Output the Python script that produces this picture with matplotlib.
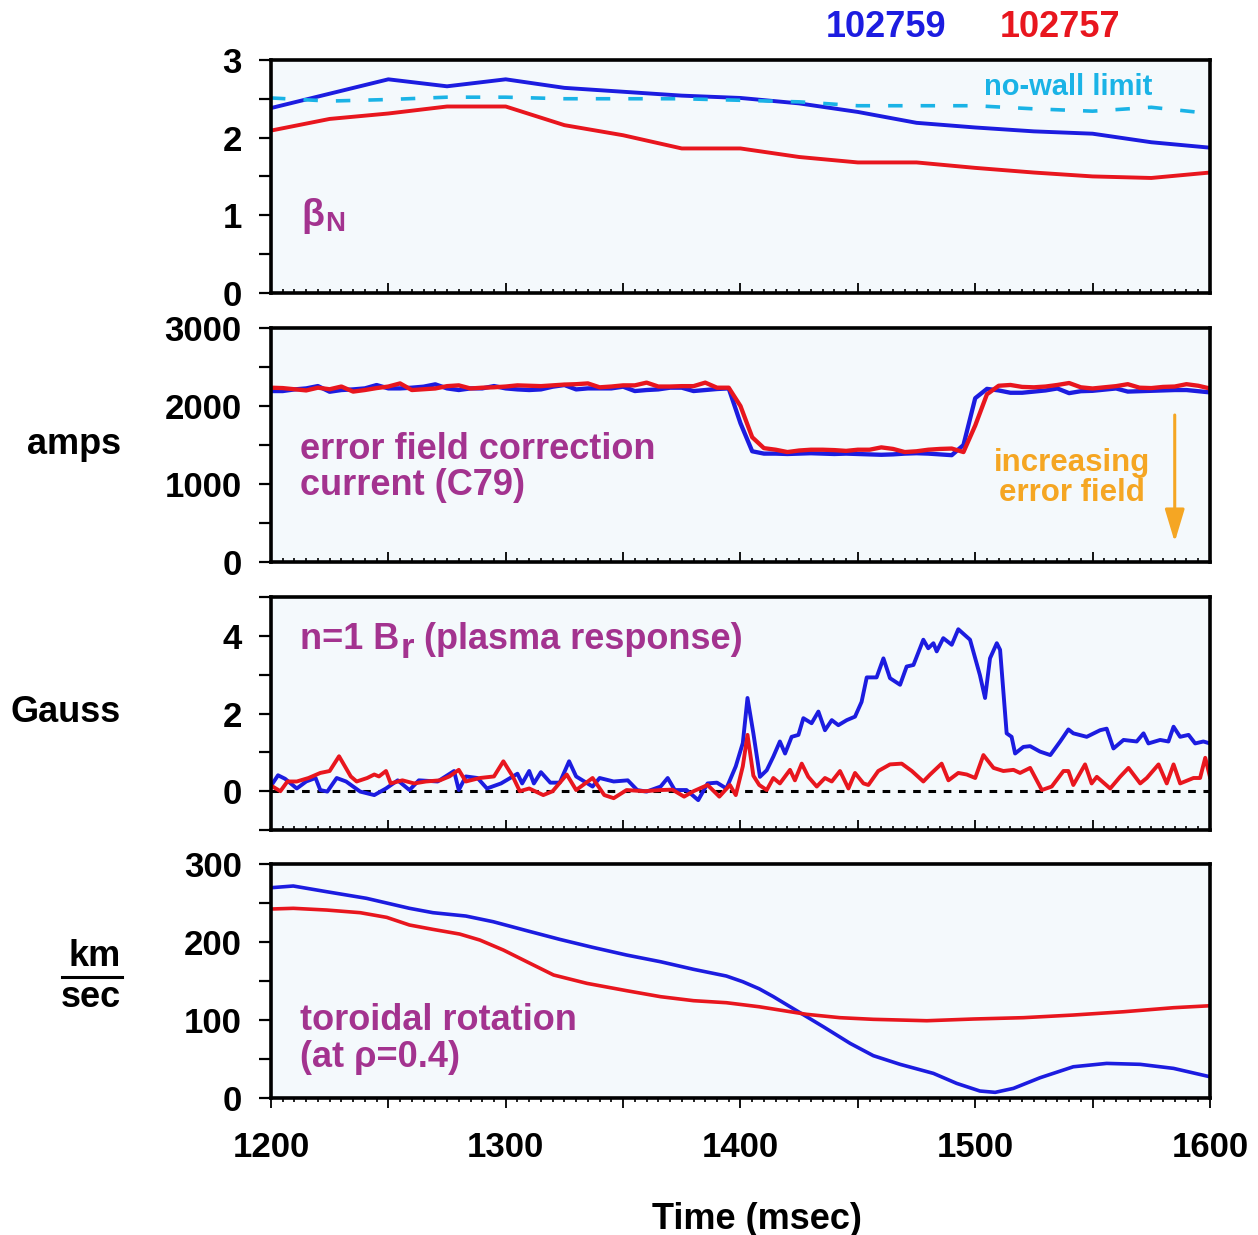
import numpy as np
import matplotlib
matplotlib.use("Agg")
import matplotlib.pyplot as plt
from matplotlib.ticker import MultipleLocator, FuncFormatter
from matplotlib.lines import Line2D

plt.rcParams['font.family'] = ['Liberation Sans', 'DejaVu Sans']
plt.rcParams['font.weight'] = 'bold'

BLUE = '#1c1ce0'
RED = '#e8161e'
CYAN = '#1ab3e6'
ORANGE = '#f5a623'
PURPLE = '#a3338f'
BG = '#f4f9fc'

# ---- beta_N (top panel)
beta_blue_t = [1200, 1250, 1275, 1300, 1325, 1350, 1375, 1400, 1425, 1450, 1475, 1500, 1525, 1550, 1575, 1600]
beta_blue = [2.38, 2.75, 2.66, 2.75, 2.64, 2.59, 2.54, 2.51, 2.44, 2.33, 2.19, 2.13, 2.08, 2.05, 1.94, 1.87]
beta_red_t = [1200, 1225, 1250, 1275, 1300, 1325, 1350, 1375, 1400, 1425, 1450, 1475, 1500, 1525, 1550, 1575, 1600]
beta_red = [2.09, 2.24, 2.31, 2.40, 2.40, 2.16, 2.03, 1.86, 1.86, 1.75, 1.68, 1.68, 1.61, 1.55, 1.50, 1.48, 1.55]
nowall = [2.51, 2.47, 2.49, 2.52, 2.52, 2.50, 2.50, 2.50, 2.48, 2.46, 2.41, 2.41, 2.41, 2.37, 2.34, 2.39, 2.31]

# ---- error field correction current (C79), every 5 ms from 1200 to 1600
current_t = np.arange(1200, 1601, 5)
current_blue = [2192, 2192, 2213, 2226, 2256, 2183, 2205, 2213, 2226, 2269,
                2226, 2226, 2235, 2248, 2278, 2226, 2205, 2226, 2226, 2256,
                2226, 2213, 2205, 2213, 2248, 2269, 2213, 2226, 2226, 2226,
                2248, 2192, 2205, 2213, 2235, 2235, 2192, 2205, 2218, 2226,
                1780, 1420, 1390, 1390, 1385, 1390, 1395, 1390, 1385, 1390,
                1385, 1380, 1375, 1380, 1390, 1395, 1390, 1380, 1370, 1500,
                2100, 2220, 2200, 2170, 2170, 2185, 2200, 2225, 2165, 2190,
                2195, 2210, 2225, 2185, 2190, 2195, 2200, 2205, 2205, 2190,
                2175]
current_red = [2235, 2230, 2215, 2200, 2235, 2215, 2250, 2185, 2205, 2230,
               2250, 2290, 2205, 2215, 2225, 2255, 2265, 2225, 2235, 2240,
               2250, 2265, 2260, 2255, 2265, 2275, 2280, 2290, 2240, 2250,
               2265, 2265, 2300, 2250, 2250, 2255, 2255, 2300, 2235, 2235,
               2000, 1600, 1460, 1440, 1410, 1430, 1440, 1440, 1435, 1425,
               1440, 1440, 1470, 1450, 1410, 1420, 1440, 1450, 1455, 1410,
               1750, 2150, 2260, 2270, 2245, 2240, 2250, 2270, 2295, 2240,
               2225, 2240, 2255, 2280, 2235, 2230, 2245, 2250, 2280, 2260,
               2225]

# ---- n=1 Br plasma response (Gauss)
gauss_blue_t = [1200.7, 1203, 1206, 1211, 1215, 1219, 1221, 1224, 1228, 1232,
                1238, 1244, 1249, 1254, 1259, 1263, 1271, 1278, 1280, 1283,
                1288, 1292, 1298, 1305, 1307, 1310, 1312, 1315, 1319, 1323,
                1327, 1330, 1337, 1340, 1346, 1352, 1356, 1360, 1366, 1369,
                1372, 1377, 1382, 1386, 1390, 1394, 1398, 1401, 1403, 1405.5,
                1408.3, 1411.2, 1414, 1416.8, 1419, 1421.8, 1424.7, 1426.8, 1430.3, 1433.2,
                1436, 1438.9, 1441.7, 1445.3, 1448.8, 1451.6, 1453.8, 1458, 1460.9, 1463.7,
                1468, 1470.8, 1473.7, 1477.9, 1480, 1482.2, 1483.6, 1486.4, 1490, 1492.8,
                1497.8, 1502, 1504.2, 1506.3, 1509.2, 1510.6, 1513.4, 1515.5, 1517, 1520.5,
                1523.4, 1527.6, 1532, 1536.2, 1539.7, 1541.8, 1547.5, 1553.2, 1556, 1558.9,
                1563.2, 1568.8, 1571.7, 1573.8, 1578.8, 1582.3, 1584.5, 1587.3, 1590.9, 1593.7,
                1597.2, 1600]
gauss_blue = [0.20, 0.41, 0.32, 0.07, 0.25, 0.34, 0.03, -0.01, 0.34, 0.25,
              -0.01, -0.10, 0.07, 0.28, 0.03, 0.28, 0.25, 0.52, 0.03, 0.38,
              0.34, 0.07, 0.20, 0.45, 0.20, 0.52, 0.20, 0.49, 0.22, 0.22,
              0.77, 0.38, 0.12, 0.34, 0.25, 0.28, 0.03, -0.01, 0.12, 0.34,
              0.03, 0.03, -0.23, 0.20, 0.22, 0.07, 0.64, 1.24, 2.40, 1.49,
              0.37, 0.54, 0.89, 1.28, 0.97, 1.40, 1.45, 1.88, 1.75, 2.05,
              1.57, 1.83, 1.70, 1.83, 1.92, 2.30, 2.93, 2.93, 3.42, 2.91,
              2.74, 3.21, 3.25, 3.90, 3.68, 3.81, 3.60, 3.94, 3.77, 4.17,
              3.90, 2.99, 2.40, 3.42, 3.81, 3.64, 1.49, 1.40, 0.97, 1.14,
              1.16, 1.02, 0.93, 1.28, 1.59, 1.49, 1.40, 1.57, 1.61, 1.10,
              1.32, 1.28, 1.49, 1.23, 1.32, 1.28, 1.66, 1.40, 1.45, 1.23,
              1.28, 1.23]
gauss_red_t = [1200.7, 1204, 1207, 1211, 1216, 1221, 1225, 1229, 1234, 1236.5,
               1241, 1244, 1246, 1249, 1251, 1256, 1261, 1266, 1272, 1276,
               1280, 1283, 1289, 1295, 1299, 1303, 1306, 1310, 1316, 1320,
               1326, 1330, 1337, 1342, 1346, 1351.5, 1359, 1366, 1371, 1376,
               1380, 1386, 1391, 1395.5, 1398, 1401, 1403, 1405.5, 1408, 1411.2,
               1414, 1416.8, 1421.1, 1423.2, 1426.1, 1428.9, 1432.5, 1436, 1438.9, 1442.4,
               1446, 1448.8, 1452.4, 1454.5, 1458.7, 1463.7, 1468.7, 1473, 1477.9, 1480.8,
               1485.7, 1488.6, 1492.8, 1496.4, 1500, 1503.5, 1507.8, 1512, 1516.3, 1519.1,
               1523.4, 1528.4, 1532.6, 1537.6, 1539.7, 1541.8, 1546.8, 1549.6, 1551.8, 1557.5,
               1561.7, 1565.3, 1570.3, 1573.1, 1578.1, 1581.6, 1584.5, 1587.3, 1593, 1595.8,
               1598, 1600]
gauss_red = [0.12, 0.00, 0.25, 0.25, 0.34, 0.47, 0.52, 0.90, 0.38, 0.25,
             0.34, 0.43, 0.38, 0.52, 0.20, 0.28, 0.20, 0.25, 0.28, 0.38,
             0.55, 0.25, 0.34, 0.38, 0.77, 0.38, 0.00, 0.07, -0.10, 0.00,
             0.43, 0.03, 0.34, -0.10, -0.18, 0.03, 0.00, 0.03, 0.04, -0.14,
             0.00, 0.16, -0.14, 0.16, -0.10, 0.64, 1.45, 0.40, 0.16, 0.03,
             0.34, 0.20, 0.55, 0.28, 0.71, 0.37, 0.12, 0.34, 0.25, 0.52,
             0.07, 0.47, 0.20, 0.16, 0.52, 0.69, 0.71, 0.52, 0.25, 0.43,
             0.71, 0.28, 0.47, 0.43, 0.34, 0.93, 0.60, 0.52, 0.55, 0.47,
             0.60, 0.03, 0.12, 0.52, 0.52, 0.16, 0.69, 0.20, 0.37, 0.07,
             0.37, 0.60, 0.20, 0.34, 0.69, 0.20, 0.69, 0.20, 0.34, 0.34,
             0.86, 0.37]

# ---- toroidal rotation at rho=0.4 (km/sec)
rot_blue_t = [1200, 1209.5, 1223.7, 1240.7, 1259, 1269, 1283, 1294.7, 1309, 1323,
              1337, 1351.5, 1366, 1380, 1394, 1401, 1408, 1414, 1424.7, 1435.3,
              1446.7, 1456.6, 1468, 1482.2, 1492.1, 1502, 1508.5, 1516.3, 1527.6, 1541.8,
              1556, 1570.3, 1584.5, 1600]
rot_blue = [269.6, 271.8, 264.5, 256.0, 243.2, 237.6, 233.3, 226.0, 214.5, 203.4,
            193.2, 183.3, 174.7, 165.0, 156.4, 149.1, 140.0, 130.0, 110.6, 91.4,
            70.1, 54.3, 43.2, 31.6, 18.8, 9.0, 7.3, 12.4, 26.0, 40.1,
            44.4, 43.2, 38.0, 27.3]
rot_red_t = [1200, 1209.5, 1223.7, 1238, 1249.3, 1259, 1269, 1280.4, 1289, 1299,
             1309, 1320.4, 1334.6, 1351.5, 1366, 1380, 1394, 1408, 1428.2, 1442.4,
             1456.6, 1479.4, 1499.2, 1520.5, 1541.8, 1563.2, 1584.5, 1600]
rot_red = [242.3, 243.2, 241.0, 237.6, 231.6, 221.8, 216.2, 210.2, 202.5, 189.7,
           174.7, 157.7, 147.0, 137.6, 129.9, 124.8, 122.2, 117.0, 107.3, 103.0,
           100.9, 99.1, 101.3, 103.0, 106.4, 110.6, 115.8, 118.3]

fig = plt.figure(figsize=(12.58, 12.35), dpi=100)
left, width = 0.2154, 0.7464
ax1 = fig.add_axes([left, 0.7628, width, 0.1887])
ax2 = fig.add_axes([left, 0.5449, width, 0.1895])
ax3 = fig.add_axes([left, 0.3279, width, 0.1887])
ax4 = fig.add_axes([left, 0.1109, width, 0.1895])
axes = [ax1, ax2, ax3, ax4]

for ax in axes:
    ax.set_facecolor(BG)
    ax.set_xlim(1200, 1600)
    for sp in ax.spines.values():
        sp.set_linewidth(2.6)
    ax.xaxis.set_major_locator(MultipleLocator(50))
    ax.xaxis.set_minor_locator(MultipleLocator(5))
    ax.tick_params(axis='y', which='both', direction='out', length=9, width=1.6,
                   pad=12, labelsize=25, right=False)
    ax.tick_params(axis='x', which='major', direction='in', length=7.5, width=1.3, top=False)
    ax.tick_params(axis='x', which='minor', direction='in', length=3.2, width=1.2, top=False)
    ax.tick_params(axis='x', labelbottom=False)

# panel 1
ax1.plot(beta_red_t, beta_red, color=RED, lw=2.8)
ax1.plot(beta_blue_t, beta_blue, color=BLUE, lw=2.8)
ax1.plot(beta_red_t, nowall, color=CYAN, lw=2.6, ls=(0, (4, 5)))
ax1.set_ylim(0, 3)
ax1.yaxis.set_major_locator(MultipleLocator(1))
ax1.yaxis.set_minor_locator(MultipleLocator(0.5))
ax1.text(1539.5, 2.65, 'no-wall limit', color=CYAN, fontsize=21, ha='center', va='center')
b = ax1.text(1212.8, 0.86, 'β', color=PURPLE, fontsize=27, ha='left', va='baseline')
ax1.annotate('N', xy=(1, 0), xycoords=b, xytext=(1, -2), textcoords='offset points',
             color=PURPLE, fontsize=20, ha='left', va='bottom')

# panel 2
ax2.plot(current_t, current_blue, color=BLUE, lw=3.1)
ax2.plot(current_t, current_red, color=RED, lw=3.1)
ax2.set_ylim(0, 3000)
ax2.yaxis.set_major_locator(MultipleLocator(1000))
ax2.yaxis.set_minor_locator(MultipleLocator(500))
ax2.text(1212.4, 1215, 'error field correction\ncurrent (C79)', color=PURPLE,
         fontsize=26, ha='left', va='center', linespacing=1.05)
ax2.text(1541.2, 1077, 'increasing\nerror field', color=ORANGE, fontsize=22.5,
         ha='center', va='center', linespacing=1.0)
ax2.annotate('', xy=(1585, 256), xytext=(1585, 1885),
             arrowprops=dict(arrowstyle='-|>,head_length=1.0,head_width=0.3',
                             color=ORANGE, lw=2.2, mutation_scale=20,
                             shrinkA=0, shrinkB=0))

# panel 3
ax3.axhline(0, color='black', lw=2.2, ls=(0, (2.5, 2.5)))
ax3.plot(gauss_blue_t, gauss_blue, color=BLUE, lw=2.8)
ax3.plot(gauss_red_t, gauss_red, color=RED, lw=2.8)
ax3.set_ylim(-1, 5)
ax3.yaxis.set_major_locator(MultipleLocator(2))
ax3.yaxis.set_minor_locator(MultipleLocator(1))
t1 = ax3.text(1212.4, 3.66, 'n=1 B', color=PURPLE, fontsize=26, ha='left', va='baseline')
t2 = ax3.annotate('r', xy=(1, 0), xycoords=t1, xytext=(1, -6), textcoords='offset points',
                  color=PURPLE, fontsize=25, ha='left', va='bottom')
ax3.annotate(' (plasma response)', xy=(1, 0), xycoords=(t2, t1), color=PURPLE,
             fontsize=26, ha='left', va='bottom')

# panel 4
ax4.plot(rot_blue_t, rot_blue, color=BLUE, lw=2.6)
ax4.plot(rot_red_t, rot_red, color=RED, lw=2.6)
ax4.set_ylim(0, 300)
ax4.yaxis.set_major_locator(MultipleLocator(100))
ax4.yaxis.set_minor_locator(MultipleLocator(50))
ax4.tick_params(axis='x', which='both', direction='out', labelbottom=True, labelsize=25, pad=16)
ax4.xaxis.set_major_formatter(FuncFormatter(lambda v, p: '%d' % v if v % 100 == 0 else ''))
ax4.text(1212.4, 75.6, 'toroidal rotation\n(at ρ=0.4)', color=PURPLE, fontsize=26,
         ha='left', va='center', linespacing=1.05)

# labels around the panels
fig.text(0.7043, 0.9781, '102759', color=BLUE, fontsize=26, ha='center', va='center')
fig.text(0.8426, 0.9781, '102757', color=RED, fontsize=26, ha='center', va='center')
fig.text(0.0962, 0.6397, 'amps', fontsize=26, ha='right', va='center')
fig.text(0.0962, 0.4227, 'Gauss', fontsize=26, ha='right', va='center')
fig.text(0.0962, 0.2259, 'km', fontsize=26, ha='right', va='center')
fig.text(0.0962, 0.1927, 'sec', fontsize=26, ha='right', va='center')
fig.add_artist(Line2D([0.049, 0.097], [0.2089, 0.2089], color='black', lw=2.2))
fig.text(0.6017, 0.0128, 'Time (msec)', fontsize=26, ha='center', va='center')

fig.savefig('out.png', dpi=100)
